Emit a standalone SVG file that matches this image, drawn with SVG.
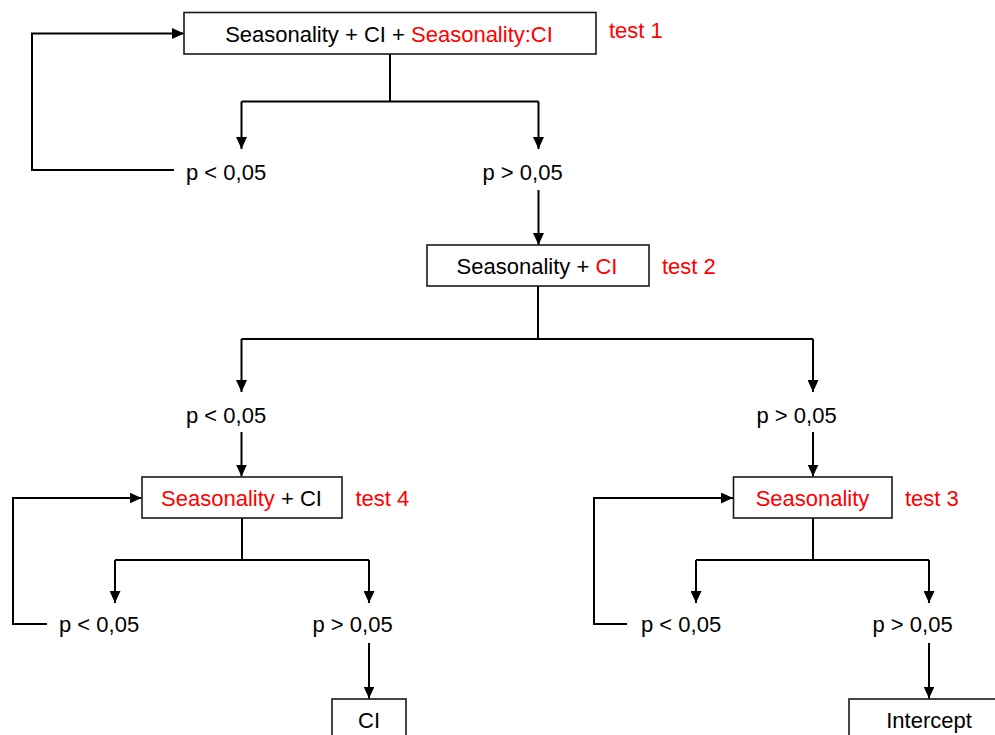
<svg xmlns="http://www.w3.org/2000/svg" width="995" height="735" viewBox="0 0 995 735">
<style>
  .box { fill: #fff; stroke: #1a1a1a; stroke-width: 1.6; }
  .t { font-family: "Liberation Sans", Arial, sans-serif; font-size: 22px; fill: #000; }
  .r { fill: #ff0000; }
  .c { text-anchor: middle; }
  .ln { fill: none; stroke: #000; stroke-width: 2; }
  .ar { marker-end: url(#ah); }
</style>
<defs>
  <marker id="ah" markerUnits="userSpaceOnUse" markerWidth="12" markerHeight="11" refX="12" refY="5.5" orient="auto">
    <path d="M0,0 L12,5.5 L0,11 z" fill="#000"/>
  </marker>
</defs>
<rect width="995" height="735" fill="#fff"/>
<g id="connectors">
  <polyline class="ln ar" points="174,170 32,170 32,33.5 184,33.5"/>
  <line class="ln" x1="390" y1="54" x2="390" y2="101.5"/>
  <line class="ln" x1="241.5" y1="101.5" x2="538.5" y2="101.5"/>
  <line class="ln ar" x1="241.5" y1="101.5" x2="241.5" y2="149"/>
  <line class="ln ar" x1="538.5" y1="101.5" x2="538.5" y2="149"/>
  <line class="ln ar" x1="538.5" y1="190" x2="538.5" y2="245"/>
  <line class="ln" x1="538" y1="286" x2="538" y2="339"/>
  <line class="ln" x1="241.5" y1="339" x2="813" y2="339"/>
  <line class="ln ar" x1="241.5" y1="339" x2="241.5" y2="392"/>
  <line class="ln ar" x1="813" y1="339" x2="813" y2="392"/>
  <line class="ln ar" x1="241.5" y1="432" x2="241.5" y2="476.5"/>
  <line class="ln ar" x1="813" y1="432" x2="813" y2="476.5"/>
  <polyline class="ln ar" points="47,624 13,624 13,498 141.5,498"/>
  <line class="ln" x1="242" y1="518" x2="242" y2="560"/>
  <line class="ln" x1="115" y1="560" x2="369" y2="560"/>
  <line class="ln ar" x1="115" y1="560" x2="115" y2="603"/>
  <line class="ln ar" x1="369" y1="560" x2="369" y2="603"/>
  <line class="ln ar" x1="369" y1="643" x2="369" y2="698.5"/>
  <polyline class="ln ar" points="627,624 594,624 594,498 733,498"/>
  <line class="ln" x1="813" y1="518" x2="813" y2="560"/>
  <line class="ln" x1="696" y1="560" x2="929" y2="560"/>
  <line class="ln ar" x1="696" y1="560" x2="696" y2="603"/>
  <line class="ln ar" x1="929" y1="560" x2="929" y2="603"/>
  <line class="ln ar" x1="929" y1="643" x2="929" y2="698.5"/>
</g>
<g id="node-test1">
  <rect class="box" x="184" y="12.5" width="412" height="41.5"/>
  <text class="t c" x="389" y="42">Seasonality + CI + <tspan class="r">Seasonality:CI</tspan></text>
  <text class="t r" x="609" y="38">test 1</text>
</g>
<g id="label-t1-lt">
  <text class="t" x="186" y="180">p &lt; 0,05</text>
</g>
<g id="label-t1-gt">
  <text class="t" x="482.5" y="180">p &gt; 0,05</text>
</g>
<g id="node-test2">
  <rect class="box" x="427" y="245" width="222" height="41"/>
  <text class="t c" x="537" y="274">Seasonality + <tspan class="r">CI</tspan></text>
  <text class="t r" x="662" y="274">test 2</text>
</g>
<g id="label-t2-lt">
  <text class="t" x="186" y="423">p &lt; 0,05</text>
</g>
<g id="label-t2-gt">
  <text class="t" x="756.5" y="423">p &gt; 0,05</text>
</g>
<g id="node-test4">
  <rect class="box" x="142" y="477" width="200" height="41"/>
  <text class="t c" x="241.5" y="506"><tspan class="r">Seasonality</tspan> + CI</text>
  <text class="t r" x="355.5" y="506">test 4</text>
</g>
<g id="node-test3">
  <rect class="box" x="733.5" y="477" width="158.5" height="41"/>
  <text class="t c r" x="812.5" y="506">Seasonality</text>
  <text class="t r" x="905" y="506">test 3</text>
</g>
<g id="label-t4-lt">
  <text class="t" x="59" y="632">p &lt; 0,05</text>
</g>
<g id="label-t4-gt">
  <text class="t" x="312.5" y="632">p &gt; 0,05</text>
</g>
<g id="label-t3-lt">
  <text class="t" x="641" y="632">p &lt; 0,05</text>
</g>
<g id="label-t3-gt">
  <text class="t" x="872.5" y="632">p &gt; 0,05</text>
</g>
<g id="node-ci">
  <rect class="box" x="332" y="699" width="74" height="50"/>
  <text class="t c" x="369" y="728">CI</text>
</g>
<g id="node-intercept">
  <rect class="box" x="849" y="699" width="160" height="50"/>
  <text class="t c" x="929" y="728">Intercept</text>
</g>
</svg>
